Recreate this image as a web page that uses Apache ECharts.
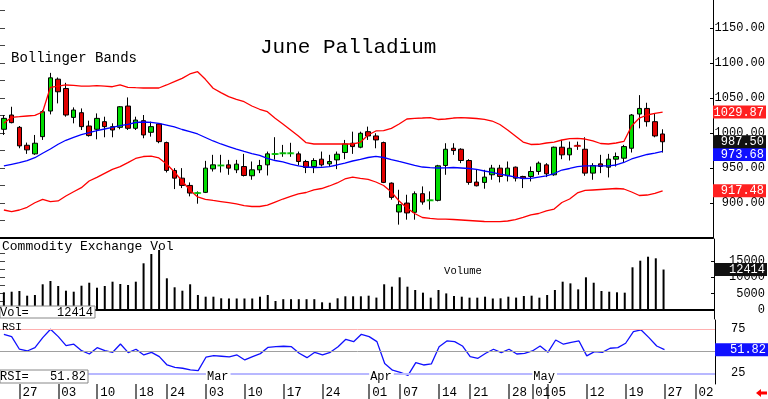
<!DOCTYPE html>
<html>
<head>
<meta charset="utf-8">
<title>June Palladium</title>
<script src="https://cdn.jsdelivr.net/npm/echarts@6/dist/echarts.min.js"></script>
<style>
html, body { margin: 0; padding: 0; background: #fff; }
#chart { width: 768px; height: 399px; }
</style>
</head>
<body>
<div id="chart"></div>
<script>
// trading days (MM/DD), the last six are empty slots on the right
const dates = [
  '01/23','01/24','01/27','01/28','01/29','01/30','01/31',
  '02/03','02/04','02/05','02/06','02/07','02/10','02/11','02/12','02/13','02/14',
  '02/18','02/19','02/20','02/21','02/24','02/25','02/26','02/27','02/28',
  '03/03','03/04','03/05','03/06','03/07','03/10','03/11','03/12','03/13','03/14',
  '03/17','03/18','03/19','03/20','03/21','03/24','03/25','03/26','03/27','03/28','03/31',
  '04/01','04/02','04/03','04/04','04/07','04/08','04/09','04/10','04/11',
  '04/14','04/15','04/16','04/17','04/21','04/22','04/23','04/24','04/25','04/28','04/29','04/30',
  '05/01','05/02','05/05','05/06','05/07','05/08','05/09','05/12','05/13','05/14','05/15','05/16',
  '05/19','05/20','05/21','05/22','05/23','05/27','05/28','05/29','05/30',
  '06/02','06/03','06/04'
];

const opens = [
  1005.3, 1025.7, 1008.1, 982.5, 970.2, 994.8, 1031.4, 1076.9, 1063.6, 1022.3,
  1029.0, 1010.0, 1005.3, 1016.2, 1009.1, 1008.1, 1038.5, 1006.7, 1017.6, 1001.0,
  1012.9, 986.3, 946.5, 935.5, 925.1, 914.2, 915.2, 948.8, 953.6, 954.5,
  947.4, 952.1, 938.9, 947.4, 954.5, 970.0, 971.0, 971.0, 970.2, 959.3,
  952.1, 962.6, 955.9, 961.6, 972.1, 985.4, 979.7, 1001.9, 995.8, 986.3,
  928.4, 887.2, 899.9, 886.7, 913.3, 903.8, 903.8, 953.6, 978.2, 976.8,
  960.7, 929.9, 929.4, 940.3, 949.8, 939.0, 951.2, 937.9, 937.9, 945.0,
  954.5, 940.3, 979.7, 968.8, 982.3, 976.8, 942.7, 955.9, 951.2, 962.6,
  964.0, 978.2, 1027.1, 1035.1, 1016.2, 998.6
];
const highs = [
  1025.7, 1037.5, 1010.0, 986.3, 997.2, 1032.8, 1085.9, 1079.3, 1071.7, 1036.6,
  1035.1, 1017.6, 1028.0, 1023.3, 1013.8, 1038.5, 1050.8, 1023.3, 1025.7, 1016.2,
  1013.8, 987.7, 949.8, 949.8, 929.4, 916.6, 960.2, 968.8, 968.8, 961.6,
  961.6, 970.2, 959.3, 961.6, 973.5, 994.0, 983.0, 986.0, 973.5, 961.6,
  964.0, 973.5, 968.8, 973.5, 990.1, 1001.9, 1001.9, 1009.1, 999.6, 987.7,
  929.4, 918.9, 911.8, 916.6, 923.7, 916.6, 954.5, 985.4, 985.4, 978.2,
  962.6, 948.4, 947.4, 954.5, 954.5, 959.3, 952.1, 938.9, 952.1, 959.3,
  956.9, 980.6, 990.1, 987.7, 987.7, 993.9, 956.9, 968.8, 970.2, 972.1,
  983.0, 1027.1, 1054.1, 1043.2, 1028.0, 1005.3
];
const lows = [
  997.2, 1013.8, 978.2, 970.2, 968.8, 990.1, 1026.6, 1042.3, 1023.3, 1013.8,
  1004.3, 994.8, 991.0, 993.9, 993.9, 1005.3, 1004.3, 1004.3, 992.5, 994.8,
  985.4, 943.6, 919.9, 921.3, 909.5, 899.0, 914.2, 945.0, 943.6, 940.3,
  942.7, 937.9, 933.2, 942.7, 939.3, 962.0, 966.0, 966.0, 953.6, 942.7,
  942.7, 952.1, 952.1, 948.4, 962.6, 970.2, 978.2, 990.1, 978.2, 928.4,
  904.7, 869.1, 876.2, 876.2, 897.6, 890.5, 902.3, 940.3, 968.8, 956.9,
  926.1, 923.7, 920.4, 933.2, 929.4, 930.8, 930.8, 921.3, 930.8, 940.3,
  937.0, 938.9, 962.6, 960.7, 975.9, 938.9, 933.2, 942.7, 936.5, 952.1,
  957.8, 972.1, 1006.7, 1009.1, 993.9, 972.1
];
const closes = [
  1020.9, 1014.8, 981.6, 975.9, 985.4, 1030.4, 1078.8, 1058.9, 1025.7, 1032.8,
  1009.1, 996.3, 1020.9, 1009.1, 1004.3, 1037.5, 1006.7, 1018.5, 997.2, 1009.1,
  987.7, 946.5, 935.5, 925.1, 914.2, 914.2, 949.8, 954.5, 953.6, 949.8,
  955.5, 939.3, 947.4, 953.6, 970.2, 970.0, 971.0, 971.0, 959.3, 950.7,
  960.7, 954.5, 959.3, 969.7, 984.4, 980.6, 999.6, 995.8, 990.1, 929.4,
  908.0, 897.6, 885.8, 913.3, 901.4, 903.8, 953.1, 976.8, 974.9, 960.7,
  929.4, 924.6, 937.0, 949.8, 937.9, 949.8, 935.5, 935.5, 945.0, 956.9,
  941.7, 979.7, 968.8, 978.2, 981.5, 942.7, 953.6, 952.1, 962.6, 966.4,
  980.6, 1025.7, 1035.1, 1016.2, 995.8, 987.5
];

const upperBand = [
  1013.9, 1022.4, 1023.3, 1024.3, 1025.3, 1030.0, 1065.3, 1067.1, 1068.6, 1068.1,
  1067.1, 1067.1, 1067.6, 1067.1, 1066.1, 1068.6, 1065.3, 1064.7, 1064.3, 1064.3,
  1064.3, 1068.6, 1073.3, 1078.1, 1084.3, 1087.6, 1076.7, 1063.9, 1057.6, 1051.9,
  1048.1, 1044.7, 1038.6, 1033.9, 1030.4, 1021.0, 1012.9, 1004.3, 995.7, 986.1,
  984.3, 984.3, 984.3, 984.3, 984.3, 984.3, 986.7, 997.1, 1002.9, 1003.3,
  1006.7, 1012.9, 1020.0, 1021.0, 1021.4, 1021.9, 1019.3, 1020.0, 1021.4, 1021.9,
  1021.4, 1020.7, 1019.6, 1017.1, 1012.1, 1004.3, 995.7, 987.1, 983.6, 983.9,
  985.7, 987.1, 990.0, 992.1, 992.4, 991.4, 988.6, 985.0, 984.3, 985.7,
  987.9, 1010.0, 1021.4, 1025.7, 1028.1, 1029.87
];
const middleBand = [
  952.9, 955.3, 957.6, 960.4, 964.7, 971.0, 977.1, 983.9, 989.6, 993.9,
  997.6, 1000.4, 1003.3, 1005.7, 1008.1, 1010.4, 1012.4, 1015.0, 1015.7, 1015.3,
  1013.9, 1011.4, 1008.6, 1005.0, 1002.1, 998.6, 993.6, 988.6, 984.3, 980.7,
  977.1, 973.6, 970.7, 967.9, 963.6, 960.7, 958.6, 955.7, 952.9, 951.4,
  950.7, 951.0, 952.1, 954.3, 957.1, 960.0, 962.4, 965.0, 966.7, 965.0,
  962.1, 959.3, 956.7, 953.6, 951.4, 950.4, 950.0, 950.3, 950.7, 950.0,
  949.3, 947.9, 945.7, 943.6, 941.4, 939.3, 937.1, 935.0, 935.3, 937.1,
  938.6, 942.1, 947.1, 949.3, 951.9, 952.9, 952.9, 952.9, 952.9, 954.3,
  957.9, 962.9, 966.4, 969.3, 971.4, 973.68
];
const lowerBand = [
  890.0, 887.6, 890.0, 893.9, 900.4, 905.3, 901.9, 902.9, 910.0, 916.1,
  921.9, 931.4, 936.7, 942.4, 948.1, 951.9, 957.6, 963.6, 966.4, 967.1,
  964.3, 955.7, 944.3, 931.4, 918.6, 908.6, 905.3, 903.6, 902.1, 900.4,
  898.6, 896.4, 895.0, 895.0, 897.1, 901.4, 905.7, 909.3, 912.9, 915.0,
  918.6, 920.7, 924.3, 928.6, 934.3, 937.1, 935.3, 933.6, 930.0, 925.0,
  915.7, 902.9, 892.9, 885.0, 879.3, 877.9, 877.1, 877.1, 876.4, 875.7,
  875.0, 874.3, 873.6, 873.3, 873.3, 874.3, 876.4, 879.3, 882.9, 885.0,
  888.6, 891.4, 900.7, 905.7, 914.3, 917.9, 918.6, 919.3, 920.0, 920.7,
  920.0, 915.7, 910.7, 911.4, 913.6, 917.48
];

const volumes = [
  5340, 5530, 5750, 4290, 4500, 7830, 8850, 7300, 5840, 5530,
  7390, 8320, 6770, 7300, 8640, 7920, 7610, 8640, 14350, 17240,
  18480, 9690, 6900, 5840, 7830, 4500, 3980, 3980, 3480, 3420,
  3420, 3420, 3420, 3980, 4500, 2640, 3200, 3200, 3200, 3200,
  3200, 2240, 2100, 3480, 4100, 4100, 4100, 4290, 3700, 7830,
  7090, 10000, 7090, 6060, 5230, 3680, 6060, 5000, 4190, 3980,
  3680, 3680, 3980, 3420, 3480, 3980, 3700, 4190, 4290, 3680,
  4500, 6060, 8640, 8120, 6260, 10000, 8320, 5750, 5530, 5340,
  5230, 13110, 15160, 16400, 15900, 12414
];

const rsiValues = [
  69.3, 66.6, 52.3, 50.3, 54.1, 65.5, 75.0, 66.6, 56.4, 58.0,
  50.7, 46.9, 54.1, 50.7, 48.8, 58.3, 48.4, 52.3, 45.8, 48.8,
  43.9, 34.4, 31.8, 30.7, 28.8, 28.0, 43.2, 45.0, 44.3, 43.5,
  45.8, 40.1, 43.9, 47.3, 54.5, 55.2, 55.7, 55.2, 47.7, 42.7,
  48.8, 45.8, 48.8, 55.2, 63.6, 60.9, 69.3, 66.6, 60.9, 36.0,
  28.5, 26.0, 22.5, 37.0, 34.4, 35.6, 55.2, 61.7, 60.9, 56.0,
  43.9, 42.0, 47.7, 52.3, 48.4, 52.3, 46.9, 47.7, 50.3, 56.0,
  48.8, 62.8, 58.0, 60.2, 61.7, 44.7, 49.6, 48.8, 53.4, 54.1,
  59.1, 72.3, 74.2, 65.5, 56.0, 51.82
];

const dayTicks = ['01/27','02/03','02/10','02/18','02/24','03/03','03/10','03/17','03/24',
  '04/01','04/07','04/14','04/21','04/28','05/01','05/05','05/12','05/19','05/27','06/02'];
const monthStarts = ['03/03', '04/01', '05/01'];
const monthNames = ['Mar', 'Apr', 'May'];

const priceLabels = [900, 950, 1000, 1050, 1100, 1150];
const priceSideTicks = [875, 900, 925, 950, 975, 1000, 1025, 1050, 1075, 1100, 1125, 1150, 1175];
const volumeLabels = [0, 5000, 10000, 15000];
const volumeSideTicks = [2500, 5000, 7500, 10000, 12500, 15000, 17500];
const rsiLabels = [25, 75];

const MONO = '"Liberation Mono", "DejaVu Sans Mono", monospace';
const UP = '#00dd00';
const DOWN = '#e00000';
const last = a => a[a.length - 1];

const chart = echarts.init(document.getElementById('chart'));

// value tag shown on the right axis
function tag(value, text, bg, dy) {
  return {
    yAxis: value,
    lineStyle: { width: 0, color: 'rgba(0,0,0,0)' },
    label: {
      show: true,
      position: 'end',
      distance: 0,
      offset: [0, dy || 0],
      color: '#fff',
      formatter: '{t|' + text + '}',
      rich: {
        t: {
          width: 50, align: 'right', padding: [1, 2, 0, 1], lineHeight: 12,
          backgroundColor: bg, color: '#fff', fontFamily: MONO, fontSize: 12
        }
      }
    }
  };
}

const candleData = dates.slice(0, opens.length).map((d, i) => [opens[i], closes[i], lows[i], highs[i]]);
const dojiData = [];
opens.forEach((o, i) => {
  if (Math.abs(o - closes[i]) < 1) {
    dojiData.push({ value: [i, closes[i]], itemStyle: { color: closes[i] >= o ? UP : DOWN } });
  }
});

const gridL = -2, gridR = 53;
const baseX = (gi) => ({
  type: 'category', gridIndex: gi, data: dates, boundaryGap: true,
  axisLine: { show: false }, axisTick: { show: false }, axisLabel: { show: false },
  splitLine: { show: false }
});

const option = {
  animation: false,
  backgroundColor: '#fff',
  grid: [
    { left: gridL, right: gridR, top: 0, height: 238 },
    { left: gridL, right: gridR, top: 239, height: 80 },
    { left: gridL, right: gridR, top: 320, height: 64 },
    { left: gridL, right: gridR, top: 320, height: 64 }
  ],
  xAxis: [
    Object.assign(baseX(0), { axisLine: { show: true, lineStyle: { color: '#000', width: 2 } } }),
    Object.assign(baseX(1), { axisLine: { show: true, lineStyle: { color: '#000', width: 2 } } }),
    Object.assign(baseX(2), {
      axisTick: {
        show: true, alignWithLabel: true, length: 15,
        interval: (i, v) => dayTicks.includes(v),
        lineStyle: { color: '#707070', width: 2 }
      },
      axisLabel: {
        show: true, interval: (i, v) => dayTicks.includes(v),
        formatter: v => v.slice(3), align: 'left', padding: [0, 0, 0, 3], margin: 2,
        fontFamily: MONO, fontSize: 12.5, color: '#000'
      }
    }),
    Object.assign(baseX(3), {
      z: 6,
      axisLabel: {
        show: true, inside: true, margin: 1,
        interval: (i, v) => monthStarts.includes(v),
        formatter: v => monthNames[monthStarts.indexOf(v)],
        align: 'left', backgroundColor: '#fff', padding: [0, 2, 0, 1],
        fontFamily: MONO, fontSize: 12, color: '#000'
      }
    })
  ],
  yAxis: [
    {
      type: 'value', gridIndex: 0, position: 'right', min: 850, max: 1190,
      axisLine: { show: true, lineStyle: { color: '#000', width: 1 } },
      axisTick: { show: true, inside: true, length: 3, customValues: priceLabels, lineStyle: { color: '#000' } },
      axisLabel: {
        customValues: priceLabels, formatter: v => v.toFixed(2), align: 'right', margin: 52,
        fontFamily: MONO, fontSize: 12, color: '#000'
      },
      splitLine: { show: false }
    },
    {
      type: 'value', gridIndex: 0, position: 'left', min: 850, max: 1190,
      axisLine: { show: false },
      axisTick: { show: true, inside: true, length: 5, customValues: priceSideTicks, lineStyle: { color: '#444' } },
      axisLabel: { show: false }, splitLine: { show: false }
    },
    {
      type: 'value', gridIndex: 1, position: 'right', min: -2950, max: 21900,
      axisLine: { show: true, lineStyle: { color: '#000', width: 1 } },
      axisTick: { show: true, inside: true, length: 3, customValues: volumeLabels, lineStyle: { color: '#000' } },
      axisLabel: {
        customValues: volumeLabels, formatter: v => String(v), align: 'right', margin: 51,
        fontFamily: MONO, fontSize: 12, color: '#000'
      },
      splitLine: { show: false }
    },
    {
      type: 'value', gridIndex: 1, position: 'left', min: -2950, max: 21900,
      axisLine: { show: false },
      axisTick: { show: true, inside: true, length: 5, customValues: volumeSideTicks, lineStyle: { color: '#444' } },
      axisLabel: { show: false }, splitLine: { show: false }
    },
    {
      type: 'value', gridIndex: 2, position: 'right', min: 12.8, max: 85.5,
      axisLine: { show: true, lineStyle: { color: '#000', width: 1 } },
      axisTick: { show: true, inside: true, length: 3, customValues: rsiLabels, lineStyle: { color: '#000' } },
      axisLabel: {
        customValues: rsiLabels, formatter: v => String(v), align: 'left', margin: 16,
        fontFamily: MONO, fontSize: 12, color: '#000'
      },
      splitLine: { show: false }
    },
    { type: 'value', gridIndex: 3, show: false, min: 12.8, max: 85.5 }
  ],
  series: [
    {
      name: 'Upper', type: 'line', xAxisIndex: 0, yAxisIndex: 0, data: upperBand,
      symbol: 'none', lineStyle: { color: '#ff0000', width: 1.3 }, itemStyle: { color: '#ff0000' },
      markLine: { silent: true, symbol: 'none', data: [tag(last(upperBand), last(upperBand).toFixed(2), '#ff2020')] }
    },
    {
      name: 'Lower', type: 'line', xAxisIndex: 0, yAxisIndex: 0, data: lowerBand,
      symbol: 'none', lineStyle: { color: '#ff0000', width: 1.3 }, itemStyle: { color: '#ff0000' },
      markLine: { silent: true, symbol: 'none', data: [tag(last(lowerBand), last(lowerBand).toFixed(2), '#ff2020')] }
    },
    {
      name: 'Middle', type: 'line', xAxisIndex: 0, yAxisIndex: 0, data: middleBand,
      symbol: 'none', lineStyle: { color: '#0000ff', width: 1.3 }, itemStyle: { color: '#0000ff' },
      markLine: { silent: true, symbol: 'none', data: [tag(last(middleBand), last(middleBand).toFixed(2), '#1010ff', 3)] }
    },
    {
      name: 'Price', type: 'candlestick', xAxisIndex: 0, yAxisIndex: 0, data: candleData,
      barWidth: 5,
      itemStyle: { color: UP, color0: DOWN, borderColor: '#000', borderColor0: '#000', borderWidth: 1 },
      markLine: { silent: true, symbol: 'none', data: [tag(last(closes), last(closes).toFixed(2), '#111')] }
    },
    {
      name: 'Doji', type: 'scatter', xAxisIndex: 0, yAxisIndex: 0, data: dojiData,
      symbol: 'rect', symbolSize: [7, 2], z: 3
    },
    {
      name: 'Volume', type: 'bar', xAxisIndex: 1, yAxisIndex: 2, data: volumes,
      barWidth: 2, itemStyle: { color: '#000' },
      markLine: { silent: true, symbol: 'none', data: [tag(last(volumes), String(last(volumes)), '#111')] }
    },
    {
      name: 'RSI', type: 'line', xAxisIndex: 2, yAxisIndex: 4, data: rsiValues,
      symbol: 'none', lineStyle: { color: '#1010ff', width: 1.3 }, itemStyle: { color: '#1010ff' },
      markLine: {
        silent: true, symbol: 'none',
        data: [
          { yAxis: 75, lineStyle: { color: '#ffb0b0', width: 1, type: 'solid' }, label: { show: false } },
          { yAxis: 50, lineStyle: { color: '#a0a0a0', width: 1, type: 'solid' }, label: { show: false } },
          { yAxis: 25, lineStyle: { color: '#b8b8ff', width: 2, type: 'solid' }, label: { show: false } },
          tag(last(rsiValues), last(rsiValues).toFixed(2), '#1010ff')
        ]
      }
    }
  ],
  graphic: [
    { type: 'text', z: 20, x: 260, y: 47, style: { text: 'June Palladium', font: '21px ' + MONO, fill: '#000', verticalAlign: 'middle', textVerticalAlign: 'middle' } },
    { type: 'text', z: 20, x: 11, y: 58, style: { text: 'Bollinger Bands', font: '14px ' + MONO, fill: '#000', verticalAlign: 'middle', textVerticalAlign: 'middle' } },
    { type: 'text', z: 20, x: 2, y: 247, style: { text: 'Commodity Exchange Vol', font: '13px ' + MONO, fill: '#000', verticalAlign: 'middle', textVerticalAlign: 'middle' } },
    { type: 'text', z: 20, x: 463, y: 271, style: { text: 'Volume', font: '10.5px ' + MONO, fill: '#000', align: 'center', textAlign: 'center', verticalAlign: 'middle', textVerticalAlign: 'middle' } },
    { type: 'text', z: 20, x: 2, y: 327, style: { text: 'RSI', font: '11px ' + MONO, fill: '#000', verticalAlign: 'middle', textVerticalAlign: 'middle' } },
    { type: 'rect', z: 20, shape: { x: 0, y: 306, width: 95, height: 12 }, style: { fill: '#fff', stroke: '#888', lineWidth: 1 } },
    { type: 'text', z: 21, x: 0, y: 312.5, style: { text: 'Vol=', font: '12px ' + MONO, fill: '#000', verticalAlign: 'middle', textVerticalAlign: 'middle' } },
    { type: 'text', z: 21, x: 93, y: 312.5, style: { text: String(last(volumes)), font: '12px ' + MONO, fill: '#000', align: 'right', textAlign: 'right', verticalAlign: 'middle', textVerticalAlign: 'middle' } },
    { type: 'rect', z: 20, shape: { x: 0, y: 370, width: 88, height: 13 }, style: { fill: '#fff', stroke: '#888', lineWidth: 1 } },
    { type: 'text', z: 21, x: 0, y: 376.5, style: { text: 'RSI=', font: '12px ' + MONO, fill: '#000', verticalAlign: 'middle', textVerticalAlign: 'middle' } },
    { type: 'text', z: 21, x: 86, y: 376.5, style: { text: last(rsiValues).toFixed(2), font: '12px ' + MONO, fill: '#000', align: 'right', textAlign: 'right', verticalAlign: 'middle', textVerticalAlign: 'middle' } },
    { type: 'polygon', z: 20, shape: { points: [[756, 393], [761, 389], [761, 391.5], [767, 391.5], [767, 394.5], [761, 394.5], [761, 397]] }, style: { fill: '#ff0000' } }
  ]
};

chart.setOption(option);
</script>
</body>
</html>
